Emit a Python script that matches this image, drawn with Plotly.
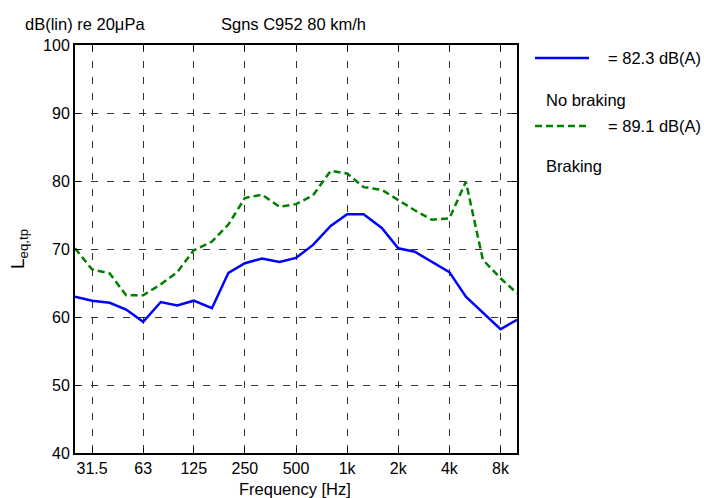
import plotly.graph_objects as go

freqs = [25, 31.5, 40, 50, 63, 80, 100, 125, 160, 200, 250, 315, 400, 500, 630,
         800, 1000, 1250, 1600, 2000, 2500, 3150, 4000, 5000, 6300, 8000, 10000]
no_braking = [63.0, 62.4, 62.1, 61.1, 59.3, 62.2, 61.7, 62.4, 61.3, 66.5, 67.9, 68.6, 68.1,
              68.7, 70.6, 73.4, 75.1, 75.1, 73.1, 70.1, 69.6, 68.1, 66.6, 63.0, 60.6, 58.2, 59.6]
braking = [70.1, 67.0, 66.4, 63.2, 63.2, 64.8, 66.6, 69.8, 71.1, 73.6, 77.5, 78.0, 76.2,
           76.6, 77.9, 81.5, 81.1, 79.1, 78.7, 77.2, 75.7, 74.3, 74.5, 79.9, 68.4, 65.7, 63.5]
tick_vals = [31.5, 63, 125, 250, 500, 1000, 2000, 4000, 8000]
tick_text = ["31.5", "63", "125", "250", "500", "1k", "2k", "4k", "8k"]
y_ticks = [40, 50, 60, 70, 80, 90, 100]
legend_levels = ["= 82.3 dB(A)", "= 89.1 dB(A)"]
legend_names = ["No braking", "Braking"]

FONT = "Arial, Liberation Sans, sans-serif"
BLUE = "#0000ff"
GREEN = "#008000"
FS = 16.5

fig = go.Figure()
fig.add_trace(go.Scatter(x=freqs, y=no_braking, mode="lines",
                         line=dict(color=BLUE, width=2.5), showlegend=False))
fig.add_trace(go.Scatter(x=freqs, y=braking, mode="lines",
                         line=dict(color=GREEN, width=2.5, dash="7px,4px"), showlegend=False))

L, R, T, B = 75, 517, 45, 453
W, H = 704, 498

def px(x):
    return (x - L) / (R - L)

def py(y):
    return (B - y) / (B - T)

grid = dict(showgrid=True, gridcolor="#333333", gridwidth=1, griddash="7px,9px")
fig.update_xaxes(type="log", range=[1.39794, 4.0], tickvals=tick_vals, ticktext=tick_text,
                 ticks="inside", ticklen=5, tickcolor="black", showline=True, linecolor="black",
                 linewidth=2, mirror="ticks", zeroline=False, automargin=False,
                 tickfont=dict(family=FONT, size=16, color="black"), **grid)
fig.update_yaxes(range=[40, 100], tickvals=y_ticks,
                 ticks="inside", ticklen=5, tickcolor="black", showline=True, linecolor="black",
                 linewidth=2, mirror="ticks", zeroline=False, automargin=False,
                 tickfont=dict(family=FONT, size=16, color="black"), **grid)

annotations = [
    dict(text="dB(lin) re 20\u03bcPa", x=px(23), y=py(24), xanchor="left", yanchor="middle"),
    dict(text="Sgns C952 80 km/h", x=px(219), y=py(24), xanchor="left", yanchor="middle"),
    dict(text=legend_levels[0], x=px(606), y=py(58), xanchor="left", yanchor="middle"),
    dict(text=legend_names[0], x=px(544), y=py(100), xanchor="left", yanchor="middle"),
    dict(text=legend_levels[1], x=px(606), y=py(126), xanchor="left", yanchor="middle"),
    dict(text=legend_names[1], x=px(544), y=py(166), xanchor="left", yanchor="middle"),
    dict(text="Frequency [Hz]", x=px(295), y=py(489), xanchor="center", yanchor="middle"),
]
for a in annotations:
    a.update(xref="paper", yref="paper", showarrow=False,
             font=dict(family=FONT, size=FS, color="black"))

annotations.append(dict(text="L<sub>eq,tp</sub>", x=px(19), y=py(249), xref="paper",
                        yref="paper", xanchor="center", yanchor="middle", textangle=-90,
                        showarrow=False, font=dict(family=FONT, size=19, color="black")))

shapes = [
    dict(type="line", xref="paper", yref="paper", x0=px(535), x1=px(589), y0=py(58), y1=py(58),
         line=dict(color=BLUE, width=2.5)),
    dict(type="line", xref="paper", yref="paper", x0=px(535), x1=px(589), y0=py(126), y1=py(126),
         line=dict(color=GREEN, width=2.5, dash="7px,4px")),
]

fig.update_layout(width=W, height=H, margin=dict(l=L, r=W - R, t=T, b=H - B),
                  plot_bgcolor="white", paper_bgcolor="white",
                  annotations=annotations, shapes=shapes, showlegend=False,
                  font=dict(family=FONT, size=FS, color="black"))

fig.write_html("out.html")
